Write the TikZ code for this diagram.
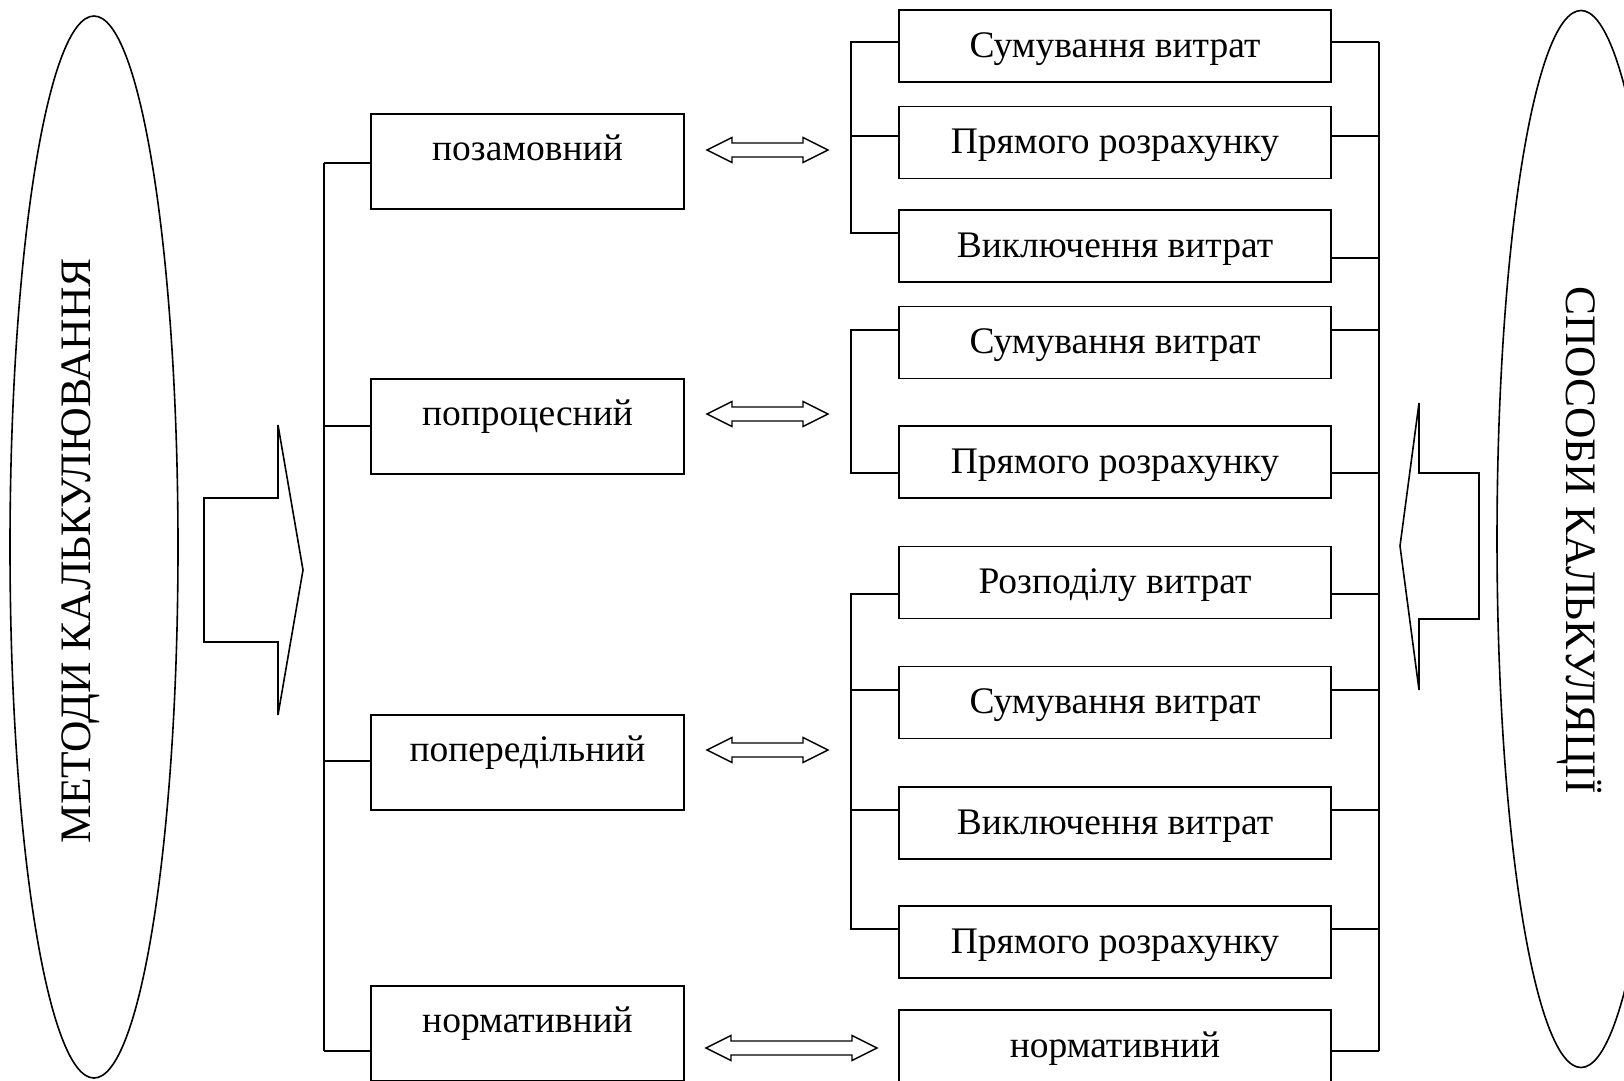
\documentclass[tikz,border=0pt]{standalone}
\usepackage{fontspec}
\setmainfont{Liberation Serif}
\usetikzlibrary{shapes.geometric}
\tikzset{
  rbox/.style={draw, line width=1.6pt, minimum width=432pt, minimum height=72pt, inner sep=0pt,
    font=\fontsize{37.5}{40}\selectfont, text height=30pt, text depth=8pt},
  mbox/.style={draw, line width=1.6pt, minimum width=313pt, minimum height=95pt, inner sep=0pt},
  mlbl/.style={font=\fontsize{37.5}{40}\selectfont, text height=26pt, text depth=8pt, inner sep=0pt},
  conn/.style={line width=1.5pt},
  bigarrow/.style={line width=1.6pt, line join=miter},
  dbl/.style={line width=1.4pt, line join=miter},
  oval/.style={draw, ellipse, line width=1.6pt, inner sep=0pt},
  bigtxt/.style={font=\fontsize{43.5}{46}\selectfont, inner sep=0pt}
}
\newcommand{\dblarr}[3]{% x1, x2, y
  \draw[dbl] (#1,#3) -- (#1+25,#3-12.5) -- (#1+25,#3-7) -- (#2-25,#3-7) -- (#2-25,#3-12.5)
    -- (#2,#3) -- (#2-25,#3+12.5) -- (#2-25,#3+7) -- (#1+25,#3+7) -- (#1+25,#3+12.5) -- cycle;}
\begin{document}
\begin{tikzpicture}[x=1pt,y=-1pt]
\useasboundingbox (0,0) rectangle (1624,1080);
\clip (0,0) rectangle (1624,1080);

% ellipses
\node[oval, minimum width=168pt, minimum height=1062pt] (lov) at (94,547) {};
\node[bigtxt, rotate=90] (ltx) at (81,551) {МЕТОДИ КАЛЬКУЛЮВАННЯ};
\node[oval, minimum width=168pt, minimum height=1057pt] (rov) at (1581,539) {};
\node[bigtxt, rotate=-90] (rtx) at (1580,540) {СПОСОБИ КАЛЬКУЛЯЦІЇ};

% big arrows
\draw[bigarrow] (204,498) -- (278,498) -- (278,425) -- (303,570) -- (278,715) -- (278,642) -- (204,642) -- cycle;
\draw[bigarrow] (1479,473) -- (1419,473) -- (1419,403) -- (1400,546) -- (1419,690) -- (1419,619) -- (1479,619) -- cycle;

% middle boxes
\node[mbox, label={[mlbl, yshift=10.5pt]center:позамовний}] (m1) at (527.5,161.5) {};
\node[mbox, label={[mlbl, yshift=10.5pt]center:попроцесний}] (m2) at (527.5,426.5) {};
\node[mbox, label={[mlbl, yshift=10.5pt]center:попередільний}] (m3) at (527.5,762.5) {};
\node[mbox, label={[mlbl, yshift=10.5pt]center:нормативний}] (m4) at (527.5,1033.5) {};

% right boxes
\node[rbox] (r1) at (1115,46) {Сумування витрат};
\node[rbox] (r2) at (1115,142.5) {Прямого розрахунку};
\node[rbox] (r3) at (1115,246) {Виключення витрат};
\node[rbox] (r4) at (1115,342.5) {Сумування витрат};
\node[rbox] (r5) at (1115,462) {Прямого розрахунку};
\node[rbox] (r6) at (1115,582.5) {Розподілу витрат};
\node[rbox] (r7) at (1115,702.5) {Сумування витрат};
\node[rbox] (r8) at (1115,823) {Виключення витрат};
\node[rbox] (r9) at (1115,942) {Прямого розрахунку};
\node[rbox] (r10) at (1115,1046) {нормативний};

% left main bracket
\coordinate (L1) at (324,163);
\coordinate (L2) at (324,426);
\coordinate (L3) at (324,761);
\coordinate (L4) at (324,1051);
\draw[conn] (L1) -- (L4);
\draw[conn] (L1) -- (L1 -| m1.west);
\draw[conn] (L2) -- (L2 -| m2.west);
\draw[conn] (L3) -- (L3 -| m3.west);
\draw[conn] (L4) -- (L4 -| m4.west);

% right-group brackets (left side)
\coordinate (a1) at (851,42);
\coordinate (a2) at (851,136);
\coordinate (a3) at (851,233);
\draw[conn] (a1 -| r1.west) -- (a1) -- (a3) -- (a3 -| r3.west);
\draw[conn] (a2) -- (a2 -| r2.west);
\coordinate (b1) at (851,330);
\coordinate (b2) at (851,473);
\draw[conn] (b1 -| r4.west) -- (b1) -- (b2) -- (b2 -| r5.west);
\coordinate (c1) at (851,594);
\coordinate (c2) at (851,690);
\coordinate (c3) at (851,810);
\coordinate (c4) at (851,929);
\draw[conn] (c1 -| r6.west) -- (c1) -- (c4) -- (c4 -| r9.west);
\draw[conn] (c2) -- (c2 -| r7.west);
\draw[conn] (c3) -- (c3 -| r8.west);

% right vertical line
\coordinate (R1) at (1379,42);
\coordinate (R2) at (1379,136);
\coordinate (R3) at (1379,258);
\coordinate (R4) at (1379,330);
\coordinate (R5) at (1379,473);
\coordinate (R6) at (1379,594);
\coordinate (R7) at (1379,690);
\coordinate (R8) at (1379,810);
\coordinate (R9) at (1379,929);
\coordinate (R10) at (1379,1051);
\draw[conn] (R1) -- (R10);
\draw[conn] (R1) -- (R1 -| r1.east);
\draw[conn] (R2) -- (R2 -| r2.east);
\draw[conn] (R3) -- (R3 -| r3.east);
\draw[conn] (R4) -- (R4 -| r4.east);
\draw[conn] (R5) -- (R5 -| r5.east);
\draw[conn] (R6) -- (R6 -| r6.east);
\draw[conn] (R7) -- (R7 -| r7.east);
\draw[conn] (R8) -- (R8 -| r8.east);
\draw[conn] (R9) -- (R9 -| r9.east);
\draw[conn] (R10) -- (R10 -| r10.east);

% double arrows
\dblarr{707}{828}{150}
\dblarr{707}{828}{414}
\dblarr{707}{828}{750}
\dblarr{706}{877}{1048}
\end{tikzpicture}
\end{document}
